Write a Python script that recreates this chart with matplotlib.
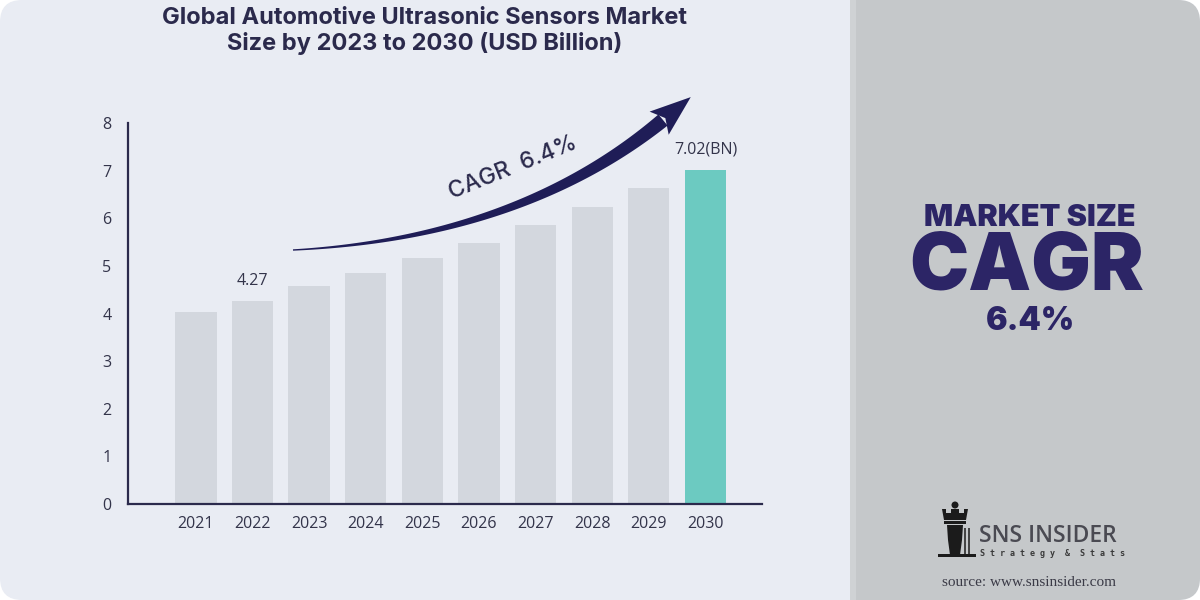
import numpy as np
import matplotlib
matplotlib.use("Agg")
import matplotlib.pyplot as plt
from matplotlib.patches import FancyBboxPatch, Rectangle, Polygon, Circle

# ---- data ----
years = ["2021", "2022", "2023", "2024", "2025", "2026", "2027", "2028", "2029", "2030"]
values = [4.03, 4.27, 4.57, 4.86, 5.17, 5.49, 5.85, 6.23, 6.64, 7.02]
value_labels = {1: "4.27", 9: "7.02(BN)"}
yticks = [0, 1, 2, 3, 4, 5, 6, 7, 8]
title = "Global Automotive Ultrasonic Sensors Market\nSize by 2023 to 2030 (USD Billion)"
cagr_label = "CAGR  6.4%"
side_lines = ["MARKET SIZE", "CAGR", "6.4%"]

LEFT_BG = "#e9ecf3"
RIGHT_BG = "#c5c8ca"
NAVY = "#2b2a4c"
PURPLE = "#2c2566"
BAR = "#d3d7de"
TEAL = "#6ccac1"

fig = plt.figure(figsize=(12, 6), dpi=100)
fig.patch.set_facecolor("white")

# background panels
bg = fig.add_axes([0, 0, 1, 1], zorder=0)
bg.set_xlim(0, 1200); bg.set_ylim(600, 0); bg.axis("off")
frame = FancyBboxPatch((0, 0), 1200, 600, boxstyle="round,pad=0,rounding_size=22",
                       fc=LEFT_BG, ec="none")
bg.add_patch(frame)
rp = Rectangle((850, 0), 350, 600, fc=RIGHT_BG, ec="none")
rp.set_clip_path(frame)
bg.add_patch(rp)
strip = Rectangle((850, 0), 6, 600, fc="#cfd2d4", ec="none")
strip.set_clip_path(frame)
bg.add_patch(strip)

# chart axes
ax = fig.add_axes([128 / 1200, 1 - 504 / 600, (762 - 128) / 1200, (504 - 123) / 600], zorder=2)
ax.set_facecolor("none")
x = np.arange(len(years))
colors = [BAR] * (len(years) - 1) + [TEAL]
ax.bar(x, values, width=0.73, color=colors, zorder=2)
ax.set_xlim(-1.2, 10.0)
ax.set_ylim(0, 8)
ax.set_xticks(x)
ax.set_xticklabels(years, fontsize=11.5, color="#33344a", family="Open Sans")
ax.set_yticks(yticks)
ax.set_yticklabels([str(t) for t in yticks], fontsize=11.5, color="#33344a", family="Open Sans")
ax.tick_params(axis="both", length=0)
ax.tick_params(axis="x", pad=9)
ax.tick_params(axis="y", pad=12)
for s in ["top", "right"]:
    ax.spines[s].set_visible(False)
for s in ["left", "bottom"]:
    ax.spines[s].set_color(NAVY)
    ax.spines[s].set_linewidth(1.6)
for i, lab in value_labels.items():
    ax.text(x[i], values[i] + 0.42, lab, ha="center", va="center", fontsize=11.5,
            color="#33344a", family="Open Sans")

# overlay for decorations
ov = fig.add_axes([0, 0, 1, 1], zorder=5)
ov.set_xlim(0, 1200); ov.set_ylim(600, 0); ov.axis("off")
ov.patch.set_alpha(0)

# title
fig.text(425 / 1200, 1 - 31 / 600, title, ha="center", va="center", fontsize=17,
         fontweight="bold", color=NAVY, family="Inter", linespacing=1.2)

# curved tapered arrow
P = np.array([[293, 250], [430, 243], [560, 205], [663, 120]], float)
t = np.linspace(0, 1, 200)[:, None]
B = ((1 - t) ** 3) * P[0] + 3 * ((1 - t) ** 2) * t * P[1] + 3 * (1 - t) * t ** 2 * P[2] + t ** 3 * P[3]
D = 3 * ((1 - t) ** 2) * (P[1] - P[0]) + 6 * (1 - t) * t * (P[2] - P[1]) + 3 * t ** 2 * (P[3] - P[2])
T = D / np.linalg.norm(D, axis=1, keepdims=True)
N = np.column_stack([-T[:, 1], T[:, 0]])
w = (0.7 + 6.5 * t[:, 0] ** 1.2)[:, None]
upper = B + N * w
lower = B - N * w
body = np.vstack([upper, lower[::-1]])
ov.add_patch(Polygon(body, closed=True, fc="#1f1d57", ec="none"))
tip_dir = T[-1]
nrm = N[-1]
base = B[-1] - tip_dir * 5
tip = B[-1] + tip_dir * 36
head = np.array([base + nrm * 15, tip, base - nrm * 15, B[-1] + tip_dir * 3])
ov.add_patch(Polygon(head, closed=True, fc="#1f1d57", ec="none"))
ov.text(513, 168, cagr_label, ha="center", va="center", rotation=22, fontsize=16.5,
        color=NAVY, family="Inter", fontweight="medium")

# right panel text
ov.text(1030, 218, side_lines[0], ha="center", va="center", fontsize=22,
        color=PURPLE, family="Inter", fontweight="black")
ov.text(1027, 268, side_lines[1], ha="center", va="center", fontsize=57,
        color=PURPLE, family="Inter", fontweight="black")
ov.text(1030, 321, side_lines[2], ha="center", va="center", fontsize=23,
        color=PURPLE, family="Inter", fontweight="black")

# logo (rook icon)
ic = "#1b1b1b"
ov.add_patch(Circle((955, 505), 3.5, fc=ic, ec="none"))
ov.add_patch(Polygon([[942, 509], [946, 509], [946, 513], [951, 513], [951, 509], [959, 509],
                      [959, 513], [964, 513], [964, 509], [968, 509], [966, 520], [944, 520]],
                     closed=True, fc=ic, ec="none"))
ov.add_patch(Rectangle((944, 521), 22, 3, fc=ic, ec="none"))
ov.add_patch(Polygon([[947, 525], [963, 525], [962, 540], [960, 555], [950, 555], [948, 540]],
                     closed=True, fc=ic, ec="none"))
ov.add_patch(Rectangle((964, 528), 2, 27, fc="#444444", ec="none"))
ov.add_patch(Rectangle((968, 528), 2, 27, fc="#444444", ec="none"))
ov.add_patch(Rectangle((938, 554), 38, 3, fc=ic, ec="none"))
ov.text(979, 536, "SNS INSIDER", ha="left", va="center", fontsize=16.5, color="#4a4a52",
        family="Open Sans", fontweight="semibold")
ov.text(980, 554, "S t r a t e g y  &  S t a t s", ha="left", va="center", fontsize=6,
        color="#3a3a3a", family="DejaVu Sans Mono", fontweight="bold")
ov.text(1029, 583, "source: www.snsinsider.com", ha="center", va="center", fontsize=11,
        color="#3a3a46", family="Liberation Serif")

fig.savefig("out.png", dpi=100, facecolor=fig.get_facecolor())
